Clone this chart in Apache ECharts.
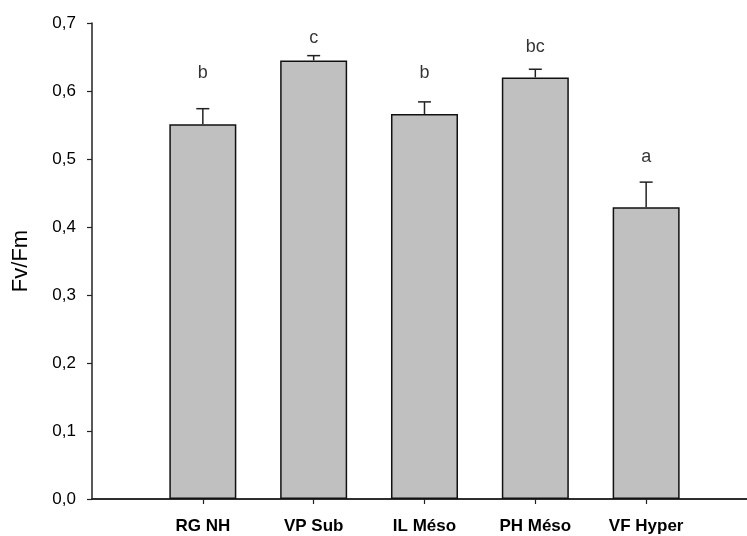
<!DOCTYPE html>
<html>
<head>
<meta charset="utf-8">
<script src="https://cdn.jsdelivr.net/npm/echarts@6/dist/echarts.min.js"></script>
<style>html,body{margin:0;padding:0;background:#fff;}#c{width:747px;height:536px;}</style>
</head>
<body>
<div id="c"></div>
<script>
var categories = ['RG NH', 'VP Sub', 'IL Méso', 'PH Méso', 'VF Hyper'];
var means = [0.551, 0.645, 0.566, 0.620, 0.429];
var errTops = [0.574, 0.652, 0.584, 0.632, 0.466];
var letters = ['b', 'c', 'b', 'bc', 'a'];
var letterY = [0.626, 0.678, 0.626, 0.665, 0.503];
var yTicks = [0, 0.1, 0.2, 0.3, 0.4, 0.5, 0.6, 0.7];

var positions = categories.map(function (c, i) { return i + 1; });
var barData = means.map(function (v, i) { return [positions[i], v]; });
var errData = means.map(function (v, i) { return [positions[i], v, errTops[i]]; });
var letterData = letters.map(function (l, i) { return { value: [positions[i], letterY[i]], name: l }; });

var chart = echarts.init(document.getElementById('c'));
var axisCol = '#222';
chart.setOption({
  animation: false,
  grid: { left: 92, right: 0, top: 23, bottom: 37 },
  xAxis: [{
    type: 'value', min: 0, max: 5.91, interval: 1,
    axisLine: { show: true, onZero: false, lineStyle: { color: axisCol, width: 1.5 } },
    axisTick: { show: true, length: 5, customValues: positions, lineStyle: { color: axisCol, width: 1.2 } },
    axisLabel: {
      customValues: positions,
      formatter: function (v) { return categories[Math.round(v) - 1] || ''; },
      fontFamily: 'Liberation Sans, Arial', fontSize: 17, fontWeight: 'bold', color: '#000', margin: 19
    },
    splitLine: { show: false }
  }, {
    type: 'value', position: 'top', min: 0, max: 5.91,
    axisLine: { show: true, lineStyle: { color: axisCol, width: 1.5 } },
    axisTick: { show: false }, axisLabel: { show: false }, splitLine: { show: false }
  }],
  yAxis: {
    type: 'value', min: 0, max: 0.7, interval: 0.1,
    name: 'Fv/Fm', nameLocation: 'middle', nameGap: 60,
    nameTextStyle: { fontFamily: 'Liberation Sans, Arial', fontSize: 22, color: '#000' },
    axisLine: { show: true, lineStyle: { color: axisCol, width: 1.5 } },
    axisTick: { show: true, length: 5, lineStyle: { color: axisCol, width: 1.2 } },
    axisLabel: {
      formatter: function (v) { return v.toFixed(1).replace('.', ','); },
      fontFamily: 'Liberation Sans, Arial', fontSize: 17, color: '#000', margin: 16
    },
    splitLine: { show: false }
  },
  series: [{
    type: 'bar', data: barData, barWidth: 67,
    itemStyle: { color: '#c0c0c0', borderColor: '#111', borderWidth: 1.5 },
    z: 2
  }, {
    type: 'custom', data: errData, z: 3,
    renderItem: function (params, api) {
      var base = api.coord([api.value(0), api.value(1)]);
      var top = api.coord([api.value(0), api.value(2)]);
      var style = { stroke: '#222', lineWidth: 1.5 };
      return { type: 'group', children: [
        { type: 'line', shape: { x1: base[0], y1: base[1], x2: top[0], y2: top[1] }, style: style },
        { type: 'line', shape: { x1: top[0] - 6.5, y1: top[1], x2: top[0] + 6.5, y2: top[1] }, style: style }
      ] };
    }
  }, {
    type: 'scatter', data: letterData, symbolSize: 0, z: 4,
    label: {
      show: true, position: 'inside',
      formatter: function (p) { return p.name; },
      fontFamily: 'Liberation Sans, Arial', fontSize: 18, color: '#000'
    }
  }]
});
</script>
</body>
</html>
